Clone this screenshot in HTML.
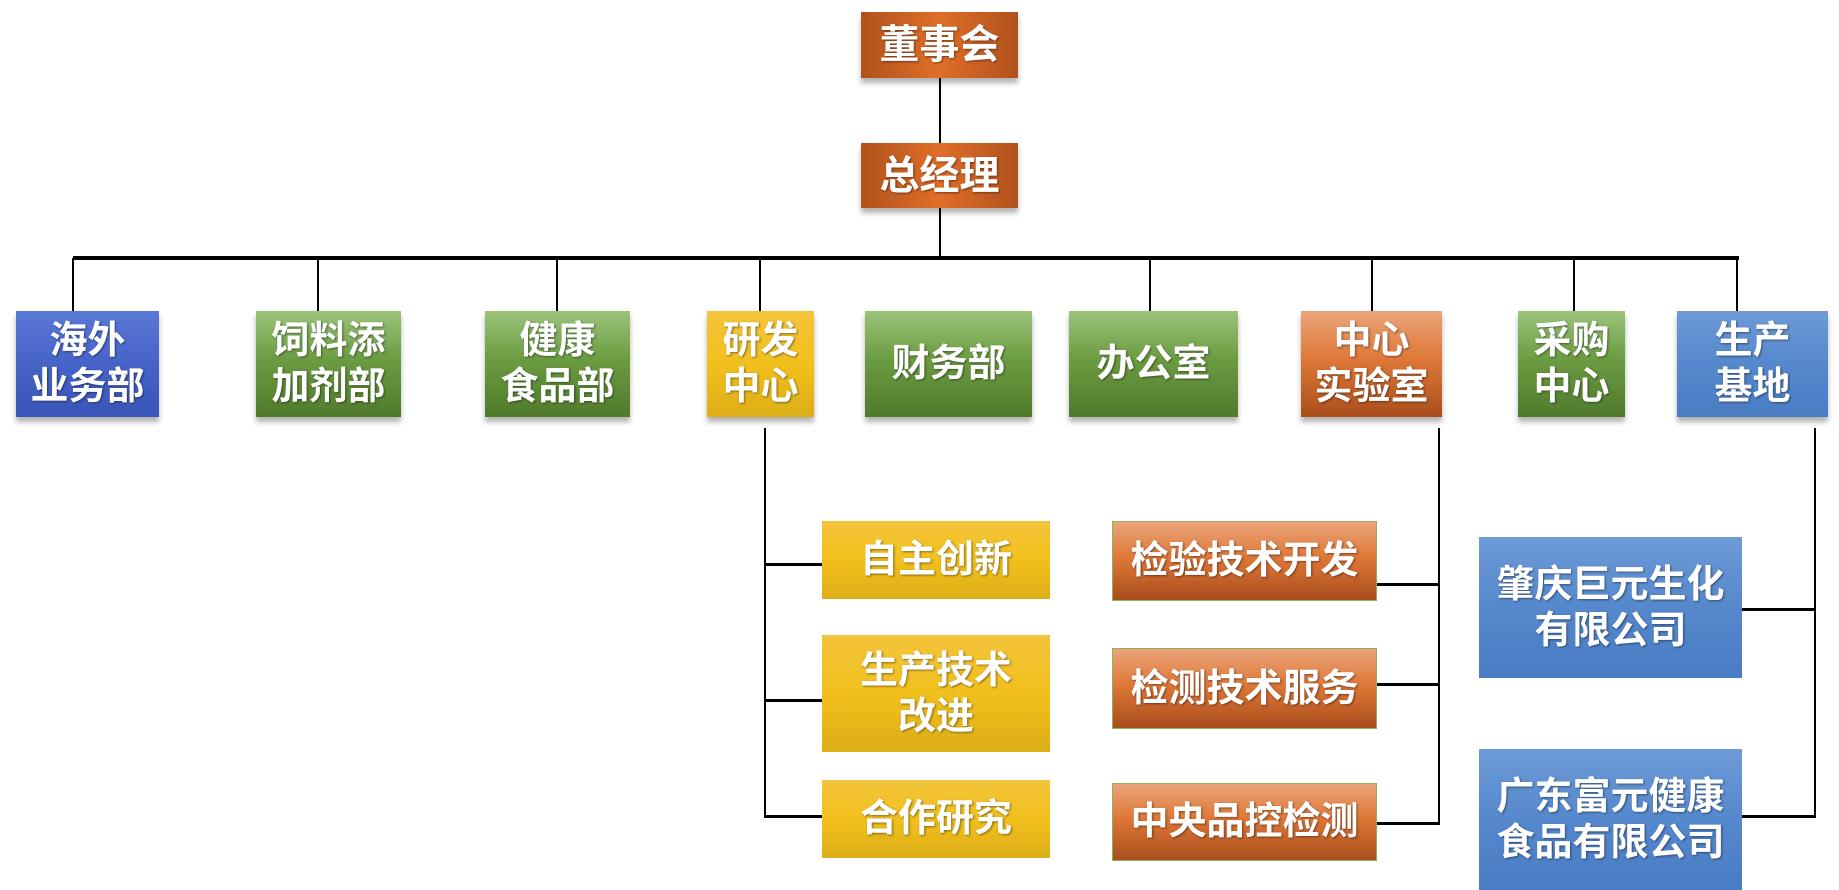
<!DOCTYPE html>
<html><head><meta charset="utf-8"><style>
body{margin:0;width:1839px;height:890px;background:#fff;position:relative;overflow:hidden;font-family:"Liberation Sans","Noto Sans CJK SC",sans-serif}
.b{position:absolute;display:flex;align-items:center;justify-content:center;text-align:center;color:#fff;font-weight:bold;font-size:38px;line-height:46px;text-shadow:1px 1px 2px rgba(0,0,0,.45);box-shadow:0 5px 5px rgba(0,0,0,.3);box-sizing:border-box}
.od{background:linear-gradient(90deg,#b0521c,#e06e28 50%,#b0521c)}
.ol{background:linear-gradient(180deg,#eaa57a,#df7838 45%,#a94e1c)}
.g{background:linear-gradient(180deg,#9cc47a,#6c9c42 45%,#4f7a2c)}
.y{background:linear-gradient(180deg,#f3c43c,#f2c01c 50%,#dcae18)}
.bl{background:linear-gradient(180deg,#6e9ad8,#5588cc 50%,#4a7cc4)}
.db{background:linear-gradient(180deg,#5a78d6,#4664c8 50%,#3a54b8)}
.l{position:absolute;background:#000}
</style></head><body>
<div class="l" style="left:939px;top:78px;width:2px;height:180px"></div>
<div class="l" style="left:73px;top:256px;width:1666px;height:4px"></div>
<div class="l" style="left:72px;top:258px;width:2px;height:53px"></div>
<div class="l" style="left:317px;top:258px;width:2px;height:53px"></div>
<div class="l" style="left:556px;top:258px;width:2px;height:53px"></div>
<div class="l" style="left:759px;top:258px;width:2px;height:53px"></div>
<div class="l" style="left:1149px;top:258px;width:2px;height:53px"></div>
<div class="l" style="left:1371px;top:258px;width:2px;height:53px"></div>
<div class="l" style="left:1573px;top:258px;width:2px;height:53px"></div>
<div class="l" style="left:1736px;top:258px;width:2px;height:53px"></div>
<div class="l" style="left:764px;top:428px;width:2px;height:390px"></div>
<div class="l" style="left:764px;top:563px;width:58px;height:3px"></div>
<div class="l" style="left:764px;top:699px;width:58px;height:3px"></div>
<div class="l" style="left:764px;top:815px;width:58px;height:3px"></div>
<div class="l" style="left:1438px;top:428px;width:2px;height:397px"></div>
<div class="l" style="left:1377px;top:583px;width:62px;height:3px"></div>
<div class="l" style="left:1377px;top:683px;width:62px;height:3px"></div>
<div class="l" style="left:1377px;top:822px;width:62px;height:3px"></div>
<div class="l" style="left:1814px;top:428px;width:2px;height:390px"></div>
<div class="l" style="left:1742px;top:608px;width:73px;height:3px"></div>
<div class="l" style="left:1742px;top:815px;width:73px;height:3px"></div>

<div class="b od" style="left:861px;top:12px;width:157px;height:66px;font-size:40px">董事会</div>
<div class="b od" style="left:861px;top:143px;width:157px;height:65px;font-size:40px">总经理</div>
<div class="b db" style="left:16px;top:311px;width:143px;height:106px">海外<br>业务部</div>
<div class="b g" style="left:256px;top:311px;width:145px;height:106px">饲料添<br>加剂部</div>
<div class="b g" style="left:485px;top:311px;width:145px;height:106px">健康<br>食品部</div>
<div class="b y" style="left:707px;top:311px;width:107px;height:106px">研发<br>中心</div>
<div class="b g" style="left:865px;top:311px;width:167px;height:106px">财务部</div>
<div class="b g" style="left:1069px;top:311px;width:169px;height:106px">办公室</div>
<div class="b ol" style="left:1301px;top:311px;width:141px;height:106px">中心<br>实验室</div>
<div class="b g" style="left:1518px;top:311px;width:107px;height:106px">采购<br>中心</div>
<div class="b bl" style="left:1677px;top:311px;width:151px;height:106px">生产<br>基地</div>

<div class="b y" style="left:822px;top:521px;width:228px;height:78px;box-shadow:none">自主创新</div>
<div class="b y" style="left:822px;top:635px;width:228px;height:117px;box-shadow:none">生产技术<br>改进</div>
<div class="b y" style="left:822px;top:780px;width:228px;height:78px;box-shadow:none">合作研究</div>
<div class="b ol" style="left:1112px;top:521px;width:265px;height:80px;box-shadow:none;border:1px solid #8ab060">检验技术开发</div>
<div class="b ol" style="left:1112px;top:648px;width:265px;height:81px;box-shadow:none;border:1px solid #8ab060">检测技术服务</div>
<div class="b ol" style="left:1112px;top:783px;width:265px;height:78px;box-shadow:none;border:1px solid #8ab060">中央品控检测</div>
<div class="b bl" style="left:1479px;top:537px;width:263px;height:141px;box-shadow:none">肇庆巨元生化<br>有限公司</div>
<div class="b bl" style="left:1479px;top:749px;width:263px;height:141px;box-shadow:none">广东富元健康<br>食品有限公司</div>
</body></html>
